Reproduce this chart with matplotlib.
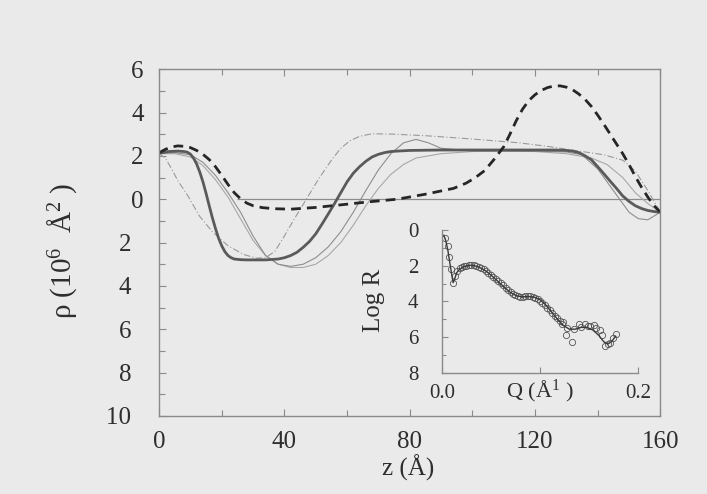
import numpy as np
import matplotlib
matplotlib.use("Agg")
import matplotlib.pyplot as plt
from matplotlib.ticker import MultipleLocator, FuncFormatter, FixedLocator

plt.rcParams['font.family'] = ['Liberation Serif', 'DejaVu Serif']
plt.rcParams['mathtext.fontset'] = 'custom'
plt.rcParams['mathtext.rm'] = 'Liberation Serif'
plt.rcParams['mathtext.default'] = 'regular'

# ---------------- main panel data: SLD profiles rho(z) ----------------
z_solid = [0, 3, 6, 8, 9, 10, 11, 12, 13, 14, 15, 16, 17, 18, 19, 20, 21, 22, 23, 24, 26, 28, 34,
           38, 40, 42, 44, 46, 48, 50, 52, 54, 56, 58, 60, 62, 64, 66, 68, 70, 72, 74, 76, 80,
           90, 100, 110, 120, 126, 128, 130, 132, 134, 136, 138, 140, 142, 144, 146, 148, 150,
           152, 154, 156, 158, 160]
rho_solid = [2.12, 2.2, 2.22, 2.2, 2.17, 2.08, 1.9, 1.62, 1.25, 0.8, 0.27, -0.3, -0.85, -1.35, -1.8, -2.15, -2.42, -2.6, -2.7, -2.76, -2.79, -2.8, -2.8,
             -2.76, -2.7, -2.6, -2.45, -2.22, -1.95, -1.6, -1.15, -0.68, -0.2, 0.3, 0.8, 1.2, 1.5, 1.75, 1.95, 2.07, 2.15, 2.2, 2.22, 2.25,
             2.27, 2.27, 2.27, 2.27, 2.27, 2.26, 2.25, 2.22, 2.15, 2.0, 1.82, 1.5, 1.17, 0.83, 0.5, 0.15, -0.1,
             -0.3, -0.43, -0.52, -0.57, -0.6]

z_dash = [0, 2, 4, 6, 8, 10, 12, 14, 16, 18, 20, 22, 24, 26, 28, 30, 33, 37, 42, 50, 58.7, 67, 76, 85,
          94, 98, 101, 104, 107, 110, 112, 114, 116, 118, 120, 122, 124, 126, 128, 130, 132, 134,
          136, 138, 140, 142, 144, 146, 148, 150, 152, 154, 156, 158, 160]
rho_dash = [2.14, 2.3, 2.41, 2.46, 2.44, 2.38, 2.25, 2.07, 1.83, 1.5, 1.1, 0.68, 0.3, 0.02, -0.18, -0.3, -0.39, -0.44, -0.46, -0.38, -0.25, -0.12, 0.0, 0.23,
            0.5, 0.74, 1.0, 1.33, 1.85, 2.42, 3.0, 3.62, 4.15, 4.55, 4.82, 5.02, 5.15, 5.22, 5.23, 5.17, 5.05, 4.85,
            4.6, 4.28, 3.88, 3.45, 3.0, 2.55, 2.1, 1.6, 1.05, 0.55, 0.1, -0.3, -0.6]

z_thin1 = [0, 2, 4, 6, 9, 13, 17, 22, 27, 31, 34, 37, 40, 43, 47, 51, 55, 58, 61, 64, 68, 75, 85, 95, 105,
           115, 125, 135, 142, 148, 152, 156, 160]
rho_thin1 = [2.1, 1.9, 1.4, 0.85, 0.2, -0.8, -1.5, -2.15, -2.55, -2.72, -2.7, -2.4, -1.7, -0.95, 0.0, 0.95, 1.8, 2.35, 2.7, 2.9, 3.02, 3.0, 2.93, 2.83, 2.72,
             2.6, 2.42, 2.2, 2.05, 1.8, 1.3, 0.4, -0.6]

z_thin2 = [0, 5, 10, 14, 18, 22, 26, 30, 34, 38, 42, 46, 50, 54, 58, 62, 66, 70, 74, 78,
           82, 86, 90, 100, 110, 120, 130, 135, 140, 145, 150, 153, 156, 160]
rho_thin2 = [2.1, 2.15, 2.05, 1.7, 1.1, 0.3, -0.6, -1.7, -2.6, -3.0, -3.1, -3.0, -2.7, -2.2, -1.5, -0.6, 0.4, 1.35, 2.1, 2.6,
             2.76, 2.6, 2.35, 2.22, 2.22, 2.22, 2.18, 2.05, 1.4, 0.4, -0.6, -0.9, -0.95, -0.6]

z_thin3 = [0, 5, 10, 14, 18, 22, 26, 30, 34, 38, 42, 46, 50, 54, 58, 62, 66, 70, 74, 78,
           82, 90, 100, 110, 120, 130, 138, 143, 148, 152, 156, 160]
rho_thin3 = [2.1, 2.1, 1.95, 1.55, 0.9, 0.1, -0.9, -1.9, -2.6, -3.0, -3.15, -3.15, -3.0, -2.6, -2.0, -1.2, -0.3, 0.5, 1.15, 1.6,
             1.9, 2.1, 2.2, 2.22, 2.2, 2.1, 1.9, 1.6, 1.0, 0.3, -0.2, -0.6]

x_ticks = [0, 40, 80, 120, 160]
y_ticks = [6, 4, 2, 0, -2, -4, -6, -8, -10]

# ---------------- inset data: reflectivity ----------------
q_data = [0.003, 0.0058, 0.0071, 0.0089, 0.0116, 0.0135, 0.0156, 0.018, 0.0201, 0.0225,
          0.025, 0.0275, 0.03, 0.0325, 0.035, 0.0375, 0.04, 0.0425, 0.045, 0.0475,
          0.05, 0.0525, 0.055, 0.0575, 0.06, 0.0625, 0.065, 0.0675, 0.07, 0.0725,
          0.075, 0.0775, 0.08, 0.0825, 0.085, 0.0875, 0.09, 0.0925, 0.095, 0.0975,
          0.1, 0.1025, 0.105, 0.1075, 0.11, 0.1125, 0.115, 0.1175, 0.12, 0.1225,
          0.1238, 0.1265, 0.128, 0.1323, 0.135, 0.1395, 0.142, 0.1463, 0.149, 0.1515,
          0.1548, 0.157, 0.1612, 0.1635, 0.1663, 0.169, 0.1715, 0.1745, 0.1776]
logr_data = [0.47, 0.91, 1.49, 2.19, 2.95, 2.6, 2.29, 2.15, 2.08, 2.03,
             2.0, 1.97, 1.96, 1.98, 2.02, 2.07, 2.13, 2.2, 2.3, 2.4,
             2.5, 2.62, 2.74, 2.86, 2.98, 3.1, 3.22, 3.34, 3.45, 3.56,
             3.65, 3.7, 3.73, 3.74, 3.72, 3.71, 3.72, 3.74, 3.78, 3.85,
             3.95, 4.07, 4.2, 4.35, 4.5, 4.65, 4.8, 4.95, 5.1, 5.25,
             5.14, 5.9, 5.5, 6.25, 5.55, 5.24, 5.45, 5.24, 5.4, 5.35,
             5.33, 5.5, 5.62, 5.9, 6.48, 6.4, 6.3, 6.05, 5.81]

q_fit = [0.002, 0.004, 0.006, 0.008, 0.010, 0.0115, 0.013, 0.015, 0.018, 0.022, 0.027, 0.032,
         0.038, 0.045, 0.052, 0.058, 0.064, 0.070, 0.076, 0.082, 0.088, 0.094, 0.100, 0.106,
         0.112, 0.118, 0.124, 0.130, 0.136, 0.142, 0.148, 0.154, 0.160, 0.165, 0.169, 0.173, 0.177]
logr_fit = [0.3, 0.6, 1.1, 1.8, 2.5, 2.95, 2.75, 2.4, 2.2, 2.07, 1.98, 1.98,
            2.08, 2.3, 2.62, 2.92, 3.22, 3.5, 3.68, 3.74, 3.72, 3.75, 3.9, 4.2,
            4.6, 5.0, 5.35, 5.55, 5.55, 5.45, 5.45, 5.6, 5.9, 6.25, 6.38, 6.25, 5.95]

inset_x_ticks = [0.0, 0.1, 0.2]
inset_x_labels = ['0.0', '', '0.2']
inset_y_ticks = [0, 2, 4, 6, 8]

# ---------------- figure ----------------
BG = '#eaeaea'
TXT = '#2e2e2e'
SP = '#8a8a8a'

fig = plt.figure(figsize=(7.07, 4.94), dpi=100, facecolor=BG)
ax = fig.add_axes([0.225, 0.158, 0.709, 0.702])
ax.set_facecolor(BG)

ax.hlines(0, 25, 160, color='#8c8c8c', lw=0.9, zorder=1)
ax.plot(z_thin3, rho_thin3, color='#a8a8a8', lw=0.8)
ax.plot(z_thin2, rho_thin2, color='#8e8e8e', lw=0.8)
ax.plot(z_thin1, rho_thin1, color='#9a9a9a', lw=0.8, ls=(0, (6, 2, 1, 2)))
ax.plot(z_solid, rho_solid, color='#5a5a5a', lw=2.0, solid_joinstyle='round')
ax.plot(z_dash, rho_dash, color='#262626', lw=2.0, ls=(0, (3.5, 2.2)))

ax.set_xlim(0, 160)
ax.set_ylim(-10, 6)
ax.xaxis.set_major_locator(FixedLocator(x_ticks))
ax.xaxis.set_minor_locator(MultipleLocator(20))
ax.yaxis.set_major_locator(FixedLocator(y_ticks))
ax.yaxis.set_minor_locator(MultipleLocator(1))


def ylab(v, p):
    n = int(round(v))
    return f"{abs(n)}" + ("\u2007" if n < 0 else "")


ax.yaxis.set_major_formatter(FuncFormatter(ylab))
ax.tick_params(which='both', direction='in', color=SP, width=0.8, top=True, right=False)
ax.tick_params(which='major', length=5, labelsize=18, labelcolor=TXT, pad=11)
ax.tick_params(which='minor', length=4)
for s in ax.spines.values():
    s.set_color(SP)
    s.set_linewidth(1.0)

fig.text(0.088, 0.492, r'ρ (10$^{6}$  Å$^{2}$ )', rotation=90, ha='center', va='center',
         fontsize=21, color=TXT)
fig.text(0.577, 0.053, 'z (Å)', ha='center', va='center', fontsize=18, color=TXT)

# ---------------- inset ----------------
axi = fig.add_axes([0.625, 0.245, 0.2775, 0.2895])
axi.set_facecolor('none')
axi.plot(q_fit, logr_fit, color='#3a3a3a', lw=1.0, zorder=3)
axi.plot(q_data, logr_data, ls='none', marker='o', ms=4.5, mfc='none', mec='#555555', mew=0.6, zorder=2)
axi.set_xlim(0, 0.2)
axi.set_ylim(8, 0)
axi.xaxis.set_major_locator(FixedLocator(inset_x_ticks))
axi.set_xticklabels(inset_x_labels)
axi.yaxis.set_major_locator(FixedLocator(inset_y_ticks))
axi.yaxis.set_minor_locator(MultipleLocator(1))
axi.tick_params(which='both', direction='in', color=SP, width=0.8)
axi.tick_params(axis='y', which='major', length=4, labelsize=15, labelcolor=TXT, pad=17)
axi.tick_params(axis='y', which='minor', length=3)
axi.tick_params(axis='x', which='major', length=4, labelsize=15, labelcolor=TXT, pad=8)
for k in ['top', 'right']:
    axi.spines[k].set_visible(False)
for k in ['left', 'bottom']:
    axi.spines[k].set_color(SP)
    axi.spines[k].set_linewidth(1.0)
fig.text(0.529, 0.391, 'Log R', rotation=90, ha='center', va='center', fontsize=18, color=TXT)
axi.text(0.5, -0.13, r'Q (Å$^{1}$ )', transform=axi.transAxes, ha='center', va='center',
         fontsize=16, color=TXT)

fig.savefig('out.png', dpi=100, facecolor=BG)
